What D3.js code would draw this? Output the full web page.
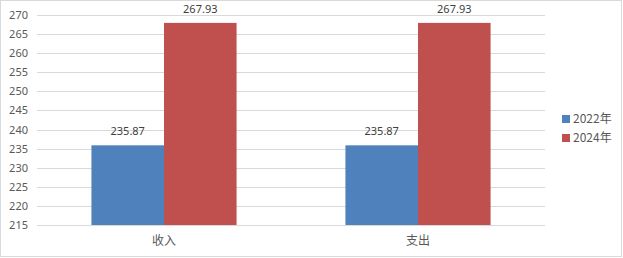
<!DOCTYPE html>
<html>
<head>
<meta charset="utf-8">
<script src="https://cdn.jsdelivr.net/npm/d3@7"></script>
<style>
  body { margin: 0; background: #fff; }
  text { font-family: "Noto Sans CJK SC", "Noto Sans", sans-serif; }
</style>
</head>
<body>
<div id="chart"></div>
<script>
var width = 623;
var height = 258;

var categories = ["收入", "支出"];
var series = ["2022年", "2024年"];
var values2022 = [235.87, 235.87];
var values2024 = [267.93, 267.93];
var colors = ["#4f81bd", "#c0504d"];
var yTicks = [215, 220, 225, 230, 235, 240, 245, 250, 255, 260, 265, 270];

var plot = { left: 37, right: 545, top: 15, bottom: 225 };

var svg = d3.select("#chart")
	.append("svg")
		.attr("width", width)
		.attr("height", height)
	;

// outer border
svg.append("rect")
	.attr("x", 0.5).attr("y", 0.5)
	.attr("width", 621).attr("height", 256)
	.attr("fill", "#fff")
	.attr("stroke", "#d9d9d9")
	;

var y = d3.scaleLinear()
	.domain([215, 270])
	.range([plot.bottom, plot.top])
	;

var x0 = d3.scaleBand()
	.domain(categories)
	.range([plot.left, plot.right])
	;

var x1 = d3.scaleBand()
	.domain(series)
	.range([0, x0.bandwidth()])
	.paddingOuter(0.75)
	;

// gridlines
svg.append("g")
	.selectAll("line")
	.data(yTicks)
	.enter()
		.append("line")
			.attr("x1", plot.left)
			.attr("x2", plot.right)
			.attr("y1", d => Math.round(y(d)) + 0.5)
			.attr("y2", d => Math.round(y(d)) + 0.5)
			.attr("stroke", "#d9d9d9")
	;

// y axis labels
var yAxis = d3.axisLeft(y).tickValues(yTicks).tickSize(0).tickPadding(9);
var gy = svg.append("g")
	.attr("transform", "translate(" + plot.left + ",0)")
	.call(yAxis)
	;
gy.select(".domain").remove();
gy.selectAll("text")
	.attr("fill", "#595959")
	.style("font-size", "11px")
	.style("font-family", "'Noto Sans', sans-serif")
	;

var rows = categories.map((c, i) => ({ cat: c, vals: [values2022[i], values2024[i]] }));

var groups = svg.append("g")
	.selectAll("g")
	.data(rows)
	.enter()
		.append("g")
			.attr("transform", d => "translate(" + x0(d.cat) + ",0)")
	;

groups.selectAll("rect")
	.data(d => d.vals.map((v, j) => ({ s: series[j], v: v, j: j })))
	.enter()
		.append("rect")
			.attr("x", d => x1(d.s))
			.attr("y", d => y(d.v))
			.attr("width", x1.bandwidth())
			.attr("height", d => y(215) - y(d.v))
			.attr("fill", d => colors[d.j])
	;

groups.selectAll("text.val")
	.data(d => d.vals.map((v, j) => ({ s: series[j], v: v })))
	.enter()
		.append("text")
			.attr("class", "val")
			.attr("x", d => x1(d.s) + x1.bandwidth() / 2)
			.attr("y", d => y(d.v) - 10)
			.attr("text-anchor", "middle")
			.attr("fill", "#404040")
			.style("font-size", "11px")
			.style("font-family", "'Noto Sans', sans-serif")
			.text(d => d.v.toFixed(2))
	;

// x axis
var xAxis = d3.axisBottom(x0).tickSize(0).tickPadding(11);
var gx = svg.append("g")
	.attr("transform", "translate(0," + plot.bottom + ")")
	.call(xAxis)
	;
gx.select(".domain").remove();
gx.selectAll("text")
	.attr("fill", "#595959")
	.style("font-size", "12px")
	;

// legend
var legend = svg.append("g")
	.selectAll("g")
	.data(series)
	.enter()
		.append("g")
			.attr("transform", (d, i) => "translate(562," + (115 + i * 19) + ")")
	;
legend.append("rect")
	.attr("width", 8).attr("height", 8)
	.attr("fill", (d, i) => colors[i])
	;
legend.append("text")
	.attr("x", 11)
	.attr("y", 4)
	.attr("dy", "0.35em")
	.attr("fill", "#595959")
	.style("font-size", "12px")
	.text(d => d)
	;
</script>
</body>
</html>
